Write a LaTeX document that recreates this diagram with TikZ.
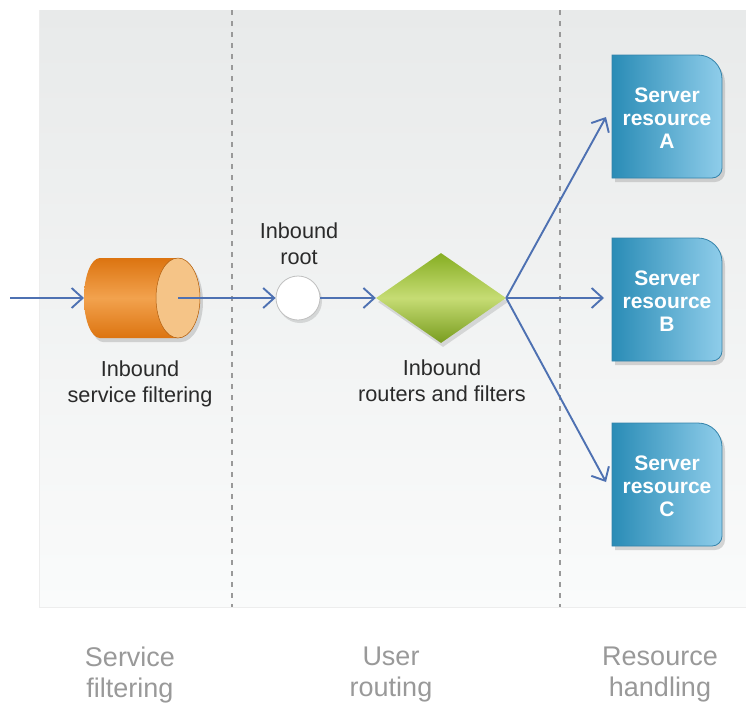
\documentclass[tikz,border=0pt]{standalone}
\usepackage{fontspec}
\setmainfont{Liberation Sans}
\usetikzlibrary{arrows.meta,shadows,shapes.geometric}
\definecolor{bgtop}{HTML}{E8EAEA}
\definecolor{bgbot}{HTML}{FAFBFB}
\definecolor{conn}{HTML}{4E71B2}
\definecolor{orD}{HTML}{DC7410}
\definecolor{orL}{HTML}{F2A24E}
\definecolor{orCap}{HTML}{F5C487}
\definecolor{grD}{HTML}{86AE22}
\definecolor{grL}{HTML}{C6DC74}
\definecolor{blD}{HTML}{2A8CB6}
\definecolor{blL}{HTML}{8FCDEA}
\definecolor{blB}{HTML}{3483AA}
\definecolor{txt}{HTML}{2A2A2A}
\definecolor{lane}{HTML}{999999}
\tikzset{
  conn/.style={draw=conn, line width=1.9pt, -{Straight Barb[length=11pt,width=20pt,line width=1.9pt]}},
  lbl/.style={text=txt, font=\fontsize{21.7}{26}\selectfont, align=center},
  lanelbl/.style={text=lane, font=\fontsize{27}{31}\selectfont, align=center},
  srvtxt/.style={text=white, font=\fontsize{21}{23}\selectfont\bfseries, align=center},
  srvshape/.style={left color=blD, right color=blL, draw=blB, line width=0.8pt,
     drop shadow={opacity=0.3, shadow xshift=3pt, shadow yshift=-4pt}},
  lanesep/.style={draw=lane, line width=1.2pt, dash pattern=on 5pt off 6pt}
}
\newcommand\srvbox[1]{%
  \path[srvshape] (612,#1) -- ++(86,0) arc[start angle=-90,end angle=0,radius=24]
     -- ++(0,89) arc[start angle=0,end angle=90,radius=10] -- ++(-100,0) -- cycle;}
\begin{document}
\begin{tikzpicture}[x=1pt,y=-1pt]
\useasboundingbox (0,0) rectangle (746,704);
% background panel
\shade[top color=bgtop, bottom color=bgbot] (39,10) rectangle (746,607);
\draw[draw=black!7, line width=0.6pt] (39,10) -- (39,607) -- (746,607);
% lane separators
\draw[lanesep] (232,10) -- (232,607);
\draw[lanesep] (560,10) -- (560,607);

% cylinder
\path[top color=orD, bottom color=orD, middle color=orL,
      drop shadow={opacity=0.3, shadow xshift=3pt, shadow yshift=-4pt}]
  (100,258) -- (178,258) arc[start angle=-90,end angle=90,x radius=22,y radius=40]
  -- (100,338) arc[start angle=90,end angle=270,x radius=16,y radius=40] -- cycle;
\fill[orCap] (178,298) ellipse[x radius=22, y radius=40];
\draw[draw=orD!80!black, line width=0.5pt] (178,298) ellipse[x radius=22, y radius=40];
\coordinate (in) at (10,298);
\coordinate (cylL) at (84,298);
\coordinate (cylC) at (178,298);

% root circle
\node[circle, draw=black!25, line width=0.8pt, fill=white, minimum size=44pt, inner sep=0pt,
      drop shadow={opacity=0.25, shadow xshift=2pt, shadow yshift=-3pt}] (root) at (298,298) {};

% diamond
\node[diamond, minimum width=130pt, minimum height=90pt, inner sep=0pt, aspect=1.44,
      top color=grD, bottom color=grD!90!black, middle color=grL,
      drop shadow={opacity=0.25, shadow xshift=2pt, shadow yshift=-4pt}] (router) at (441,298) {};

% server resources
\srvbox{55}
\srvbox{238}
\srvbox{423}
\node[srvtxt] (A) at (667,118) {Server\\resource\\A};
\node[srvtxt] (B) at (667,301) {Server\\resource\\B};
\node[srvtxt] (C) at (667,486) {Server\\resource\\C};
\coordinate (Ain) at (606,117);
\coordinate (Bin) at (604,298);
\coordinate (Cin) at (606,482);

% connectors
\draw[conn] (in) -- (cylL);
\draw[conn] (cylC) -- (root.west);
\draw[conn] (root.east) -- (router.west);
\draw[conn] (router.east) -- (Ain);
\draw[conn] (router.east) -- (Bin);
\draw[conn] (router.east) -- (Cin);

% labels
\node[lbl] (l1) at (140,384) {Inbound\\service filtering};
\node[lbl] (l2) at (299,244) {Inbound\\root};
\node[lbl] (l3) at (442,381) {Inbound\\routers and filters};

% lane labels
\node[lanelbl] (s1) at (130,675) {Service\\filtering};
\node[lanelbl] (s2) at (391,675) {User\\routing};
\node[lanelbl] (s3) at (660,675) {Resource\\handling};
\end{tikzpicture}
\end{document}
